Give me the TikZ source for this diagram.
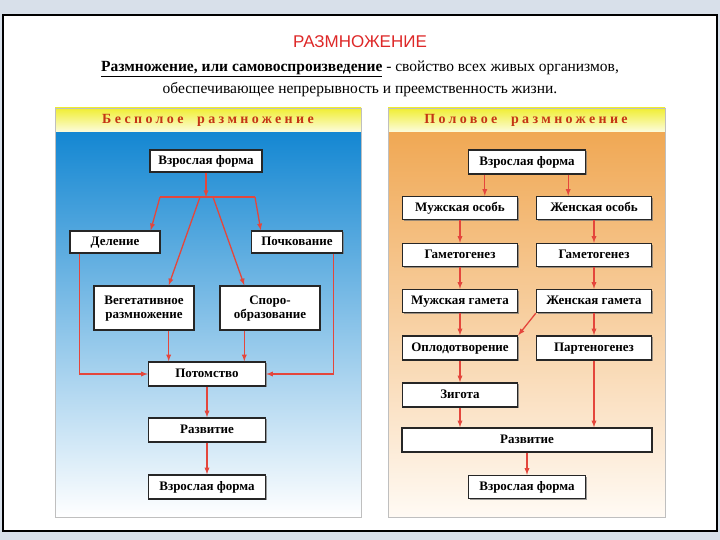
\documentclass[tikz,border=0pt]{standalone}
\usepackage{fontspec}
\setmainfont{Liberation Serif}
\newfontfamily\titlefont{Liberation Sans}
\newfontfamily\headfont[LetterSpace=24]{Liberation Serif}
\usetikzlibrary{shadows}
\tikzset{>=latex}
\definecolor{arrowred}{RGB}{228,70,60}
\definecolor{titlered}{RGB}{222,40,40}
\definecolor{headred}{RGB}{196,52,20}
\definecolor{stripgray}{RGB}{216,224,234}

\begin{document}
\begin{tikzpicture}[x=1pt, y=-1pt,
    box/.style={draw=black!85, line width=1.4pt, fill=white, inner sep=0pt,
        text height=9pt, text depth=2.5pt,
        font=\bfseries\fontsize{13}{13.5}\selectfont,
        drop shadow={shadow xshift=1.4pt, shadow yshift=-1.4pt, fill=black!55, opacity=.7}},
    link/.style={->, arrowred, line width=1.3pt},
    panel/.style={draw=black!25, line width=.8pt}]
    \useasboundingbox (0, 0) rectangle (720, 540);
    % screen and frame
    \fill [stripgray] (0, 0) rectangle (720, 540);
    \draw [line width=2pt, fill=white] (3, 15) rectangle (717, 531);
    \node (title) at (360, 42) {\titlefont\fontsize{17}{19}\selectfont\color{titlered}РАЗМНОЖЕНИЕ};
    \node [align=center, font=\fontsize{15.5}{22}\selectfont] (defn) at (360, 79)
        {\textbf{\underline{Размножение, или самовоспроизведение}} - свойство всех живых организмов,\\
         обеспечивающее непрерывность и преемственность жизни.};
    % panels
    \shade [top color={rgb,255:red,20;green,135;blue,210}, middle color={rgb,255:red,150;green,205;blue,242}, bottom color=white]
        (55, 132) rectangle (361, 517);
    \shade [top color={rgb,255:red,240;green,168;blue,84}, middle color={rgb,255:red,249;green,212;blue,166}, bottom color={rgb,255:red,255;green,250;blue,244}]
        (388, 132) rectangle (665, 517);
    \shade [top color={rgb,255:red,240;green,238;blue,50}, bottom color={rgb,255:red,252;green,252;blue,222}] (55, 108) rectangle (361, 132);
    \shade [top color={rgb,255:red,240;green,238;blue,50}, bottom color={rgb,255:red,252;green,252;blue,222}] (388, 108) rectangle (665, 132);
    \draw [panel] (55, 108) rectangle (361, 517);
    \draw [panel] (388, 108) rectangle (665, 517);
    \node (asexhead) at (208, 120) {\headfont\bfseries\fontsize{14}{15}\selectfont\color{headred}Бесполое\ \ размножение};
    \node (sexhead) at (526, 120) {\headfont\bfseries\fontsize{14}{15}\selectfont\color{headred}Половое\ \ размножение};

    % asexual
    \node [box, minimum width=112, minimum height=22] (adultA) at (206, 161) {Взрослая форма};
    \node [box, minimum width=90, minimum height=22] (division) at (115, 242) {Деление};
    \node [box, minimum width=91, minimum height=22] (budding) at (297, 242) {Почкование};
    \node [box, align=center, text height=22.5pt, minimum width=100, minimum height=44] (veg) at (144, 308) {Вегетативное\\размножение};
    \node [box, align=center, text height=22.5pt, minimum width=100, minimum height=44] (spore) at (270, 308) {Споро-\\образование};
    \node [box, minimum width=117, minimum height=24] (offspring) at (207, 374) {Потомство};
    \node [box, minimum width=117, minimum height=24] (devA) at (207, 430) {Развитие};
    \node [box, minimum width=117, minimum height=24] (adultB) at (207, 487) {Взрослая форма};
    \coordinate (split) at (206, 197);
    \coordinate (splitL) at (160, 197);
    \coordinate (splitR) at (255, 197);
    \coordinate (vegpt) at ([xshift=-26pt]veg.south east);
    \coordinate (sporept) at ([xshift=25pt]spore.south west);
    \draw [link] (adultA) -- (split);
    \draw [arrowred, line width=1.3pt] (splitL) -- (splitR);
    \draw [link] (splitL) -- ([xshift=-10pt]division.north east);
    \draw [link] (splitR) -- ([xshift=10pt]budding.north west);
    \draw [link] ([xshift=-6pt]split) -- ([xshift=-26pt]veg.north east);
    \draw [link] ([xshift=7pt]split) -- ([xshift=25pt]spore.north west);
    \draw [link] ([xshift=10pt]division.south west) |- (offspring.west);
    \draw [link] ([xshift=-10pt]budding.south east) |- (offspring.east);
    \draw [link] (vegpt) -- (vegpt |- offspring.north);
    \draw [link] (sporept) -- (sporept |- offspring.north);
    \draw [link] (offspring) -- (devA);
    \draw [link] (devA) -- (adultB);

    % sexual
    \node [box, minimum width=117, minimum height=24] (adultC) at (527, 162) {Взрослая форма};
    \node [box, minimum width=115, minimum height=23] (male) at (460, 208) {Мужская особь};
    \node [box, minimum width=115, minimum height=23] (female) at (594, 208) {Женская особь};
    \node [box, minimum width=115, minimum height=23] (gametoM) at (460, 255) {Гаметогенез};
    \node [box, minimum width=115, minimum height=23] (gametoF) at (594, 255) {Гаметогенез};
    \node [box, minimum width=115, minimum height=23] (gameteM) at (460, 301) {Мужская гамета};
    \node [box, minimum width=115, minimum height=23] (gameteF) at (594, 301) {Женская гамета};
    \node [box, minimum width=115, minimum height=24] (fert) at (460, 348) {Оплодотворение};
    \node [box, minimum width=115, minimum height=24] (partheno) at (594, 348) {Партеногенез};
    \node [box, minimum width=115, minimum height=24] (zygote) at (460, 395) {Зигота};
    \node [box, minimum width=250, minimum height=24] (devB) at (527, 440) {Развитие};
    \node [box, minimum width=117, minimum height=23] (adultD) at (527, 487) {Взрослая форма};
    \coordinate (toMale) at ([xshift=17pt]adultC.south west);
    \coordinate (toFemale) at ([xshift=-18pt]adultC.south east);
    \draw [link] (toMale) -- (toMale |- male.north);
    \draw [link] (toFemale) -- (toFemale |- female.north);
    \draw [link] (male) -- (gametoM);
    \draw [link] (female) -- (gametoF);
    \draw [link] (gametoM) -- (gameteM);
    \draw [link] (gametoF) -- (gameteF);
    \draw [link] (gameteM) -- (fert);
    \draw [link] (gameteF) -- (partheno);
    \draw [link] (gameteF.south west) -- (fert.north east);
    \draw [link] (fert) -- (zygote);
    \draw [link] (zygote.south) -- (zygote.south |- devB.north);
    \draw [link] (partheno.south) -- (partheno.south |- devB.north);
    \draw [link] (devB) -- (adultD);
\end{tikzpicture}
\end{document}
